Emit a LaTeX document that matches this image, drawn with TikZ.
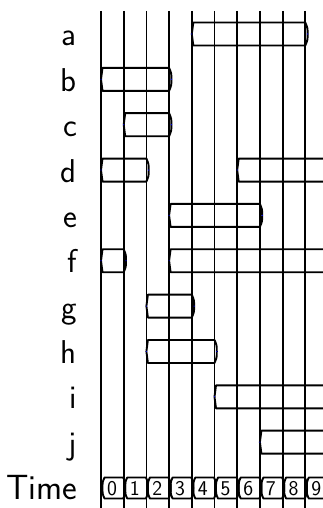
\documentclass[tikz,border=0pt]{standalone}
\usepackage{fontspec}
\usepackage{tikz}
\usetikzlibrary{positioning}

% one signal span: row, first column, last column
\newcommand{\tspan}[3]{%
  \pgfmathsetmacro{\spanL}{101+22.7*#2}%
  \pgfmathsetmacro{\spanR}{101+22.7*#3}%
  \pgfmathsetmacro{\spanY}{34+45.35*#1}%
  \draw[seg] (\spanR,\spanY-11.5) -- (\spanL+1.5,\spanY-11.5)
    .. controls (\spanL,\spanY-6) .. (\spanL,\spanY)
    .. controls (\spanL,\spanY+6) .. (\spanL+1.5,\spanY+11.5)
    -- (\spanR,\spanY+11.5)
    .. controls (\spanR+2.3,\spanY+6) .. (\spanR+2.3,\spanY)
    .. controls (\spanR+2.3,\spanY-6) .. cycle;
  \fill[blue] (\spanL,\spanY) circle (0.6pt) (\spanR+2.3,\spanY) circle (0.7pt);}

% one box of the time axis
\newcommand{\tickbox}[1]{%
  \pgfmathsetmacro{\spanL}{101+22.7*#1}%
  \pgfmathsetmacro{\spanR}{101+22.7*(#1+1)}%
  \draw[seg] (\spanR-0.5,477.5) -- (\spanL+3.5,477.5)
    .. controls (\spanL+1.5,482) .. (\spanL+1.5,488)
    .. controls (\spanL+1.5,494) .. (\spanL+3.5,498.5)
    -- (\spanR-0.5,498.5)
    .. controls (\spanR+1.5,494) .. (\spanR+1.5,488)
    .. controls (\spanR+1.5,482) .. cycle;
  \node[tick] (t#1) at (\spanL+11,488.5) {#1};}

\begin{document}
\begin{tikzpicture}[
  x=1pt, y=-1pt,
  lbl/.style={anchor=base east, inner sep=0pt, font=\fontsize{33}{38}\selectfont\sffamily},
  tick/.style={inner sep=0pt, font=\fontsize{21}{24}\selectfont\sffamily},
  grid/.style={line width=1.8pt},
  seg/.style={line width=1.9pt, line join=round}
]
  \useasboundingbox (0,0) rectangle (323,508);
  \clip (0,0) rectangle (323,508);

  \foreach \k in {0,...,9}
    \draw[grid] ({101+22.7*\k},11) -- ({101+22.7*\k},512);

  \foreach \lab [count=\r from 0] in {a,b,c,d,e,f,g,h,i,j}
    \node[lbl] (l\lab) at (77,{46+45.35*\r}) {\lab};
  \node[lbl, font=\fontsize{35}{40}\selectfont\sffamily] (lTime) at (77.5,499.5) {Time};

  \foreach \r/\s/\e in {0/4/9, 1/0/3, 2/1/3, 3/0/2, 3/6/10, 4/3/7,
                        5/0/1, 5/3/10, 6/2/4, 7/2/5, 8/5/10, 9/7/10}
    \tspan{\r}{\s}{\e};

  \foreach \k in {0,...,9}
    \tickbox{\k};
\end{tikzpicture}
\end{document}
